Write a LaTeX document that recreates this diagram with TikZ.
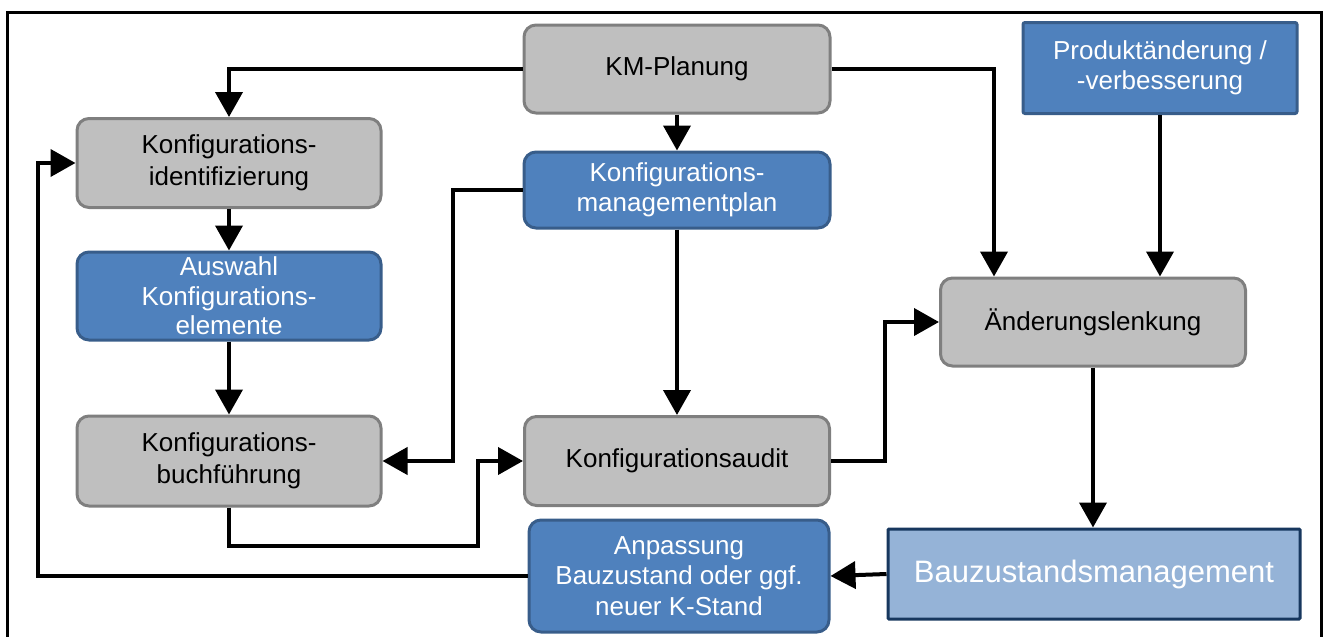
\documentclass[tikz,border=0pt]{standalone}
\usepackage{fontspec}
\setmainfont{Liberation Sans}
\usetikzlibrary{arrows.meta}
\definecolor{grayfill}{HTML}{BFBFBF}
\definecolor{grayline}{HTML}{7F7F7F}
\definecolor{bluefill}{HTML}{4F81BD}
\definecolor{blueline}{HTML}{385D8A}
\definecolor{lightfill}{HTML}{95B3D7}
\definecolor{navyline}{HTML}{17375E}
\tikzset{
  box/.style={inner sep=0pt, align=center, line width=3pt, anchor=center},
  graybox/.style={box, draw=grayline, fill=grayfill, rounded corners=12pt,
    font=\fontsize{26}{32}\selectfont, text=black},
  bluebox/.style={box, draw=blueline, fill=bluefill, rounded corners=12pt,
    font=\fontsize{26}{30.5}\selectfont, text=white},
  arr/.style={line width=4pt, -{Triangle[length=25pt,width=27pt]}},
  link/.style={line width=4pt}
}
\begin{document}
\begin{tikzpicture}[x=1pt,y=-1pt]
\useasboundingbox (0,0) rectangle (1326,637);
% outer frame, open towards the bottom
\draw[line width=3pt] (7,660) -- (7,12) -- (1321,12) -- (1321,660);

% process boxes
\node[graybox, minimum width=306pt, minimum height=88pt] (plan) at (677,69) {KM-Planung};
\node[bluebox, minimum width=306pt, minimum height=76pt] (kmp) at (677,190) {Konfigurations-\\managementplan};
\node[graybox, minimum width=304pt, minimum height=89pt] (ident) at (229,163) {Konfigurations-\\identifizierung};
\node[bluebox, font=\fontsize{26}{29.5}\selectfont, minimum width=304pt, minimum height=88pt] (ausw) at (229,296) {Auswahl\\Konfigurations-\\elemente};
\node[graybox, minimum width=304pt, minimum height=90pt] (buch) at (229,461) {Konfigurations-\\buchführung};
\node[graybox, minimum width=305pt, minimum height=89pt] (audit) at (677,461) {Konfigurationsaudit};
\node[bluebox, minimum width=300pt, minimum height=112pt] (anp) at (679,576) {Anpassung\\Bauzustand oder ggf.\\neuer K-Stand};
\node[graybox, minimum width=305pt, minimum height=88pt] (aend) at (1093,322) {Änderungslenkung};
\node[box, draw=blueline, fill=bluefill, rounded corners=2pt, text=white,
  font=\fontsize{26}{30}\selectfont, minimum width=274pt, minimum height=91pt] (prod) at (1160,68) {Produktänderung /\\-verbesserung};
\node[box, draw=navyline, fill=lightfill, text=white, rounded corners=1pt,
  font=\fontsize{31}{36}\selectfont, minimum width=412pt, minimum height=90pt] (bau) at (1094,574) {Bauzustandsmanagement};

% routing points
\coordinate (c2) at (994,69);
\coordinate (c7) at (453,190);
\coordinate (c9) at (478,546);
\coordinate (c10) at (885,461);
\coordinate (c13) at (38,300);

% connectors
\draw[arr] (plan.west) -| (ident.north);
\draw[arr] (plan.east) -- (c2) -- (c2 |- aend.north);
\draw[arr] (plan.south) -- (kmp.north);
\draw[arr] (prod.south) -- (prod.south |- aend.north);
\draw[arr] (ident.south) -- (ausw.north);
\draw[arr] (ausw.south) -- (buch.north);
\draw[arr] (kmp.west) -- (c7) |- (buch.east);
\draw[arr] (kmp.south) -- (audit.north);
\draw[arr] (buch.south) |- (c9) |- (audit.west);
\draw[arr] (audit.east) -- (c10) |- (aend.west);
\draw[arr] (aend.south) -- (aend.south |- bau.north);
\draw[arr] (bau.west) -- (anp.east);
\draw[arr] (anp.west) -| (c13) |- (ident.west);
\end{tikzpicture}
\end{document}
